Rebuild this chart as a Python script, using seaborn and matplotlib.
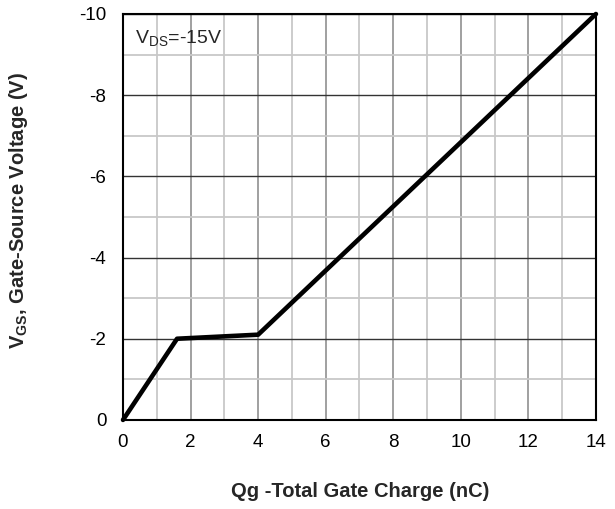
import matplotlib
matplotlib.use("Agg")
import matplotlib.pyplot as plt
import seaborn as sns
import pandas as pd
import numpy as np
from matplotlib.ticker import MultipleLocator

qg = [0, 1.6, 4.0, 14.0]
vgs = [0, -2.0, -2.1, -10.0]
x_ticks = [0, 2, 4, 6, 8, 10, 12, 14]
y_ticks = [0, -2, -4, -6, -8, -10]

sns.set_style("white")
plt.rcParams['font.family'] = ['Liberation Sans', 'DejaVu Sans']

df = pd.DataFrame({"Qg": qg, "Vgs": vgs})

fig = plt.figure(figsize=(6.15, 5.09), dpi=100)
ax = fig.add_axes([0.2, 0.175, 0.769, 0.7975])

ax.set_xlim(0, 14)
ax.set_ylim(0, -10)
ax.set_xticks(x_ticks)
ax.set_yticks(y_ticks)
ax.xaxis.set_minor_locator(MultipleLocator(1))
ax.yaxis.set_minor_locator(MultipleLocator(1))
ax.grid(which='minor', color='#c8c8c8', linewidth=1.3)
ax.xaxis.grid(which='major', color='#999999', linewidth=1.3)
ax.yaxis.grid(which='major', color='#333333', linewidth=1.0)
ax.set_axisbelow(True)

sns.lineplot(data=df, x="Qg", y="Vgs", ax=ax, color='black', linewidth=3.3, clip_on=False, zorder=5)

for s in ax.spines.values():
    s.set_color('black')
    s.set_linewidth(1.5)

ax.tick_params(axis='both', which='both', length=0, labelsize=13.5, colors='black')
ax.tick_params(axis='y', pad=12)
ax.tick_params(axis='x', pad=10)
ax.set_yticklabels([str(v) for v in y_ticks])

ax.set_xlabel("Qg -Total Gate Charge (nC)", fontsize=14.5, fontweight='bold', va='top')
ax.xaxis.set_label_coords(0.501, -0.152)
ax.set_ylabel(r"V$_{\mathregular{GS}}$, Gate-Source Voltage (V)", fontsize=14.5, fontweight='bold')
ax.yaxis.set_label_coords(-0.197, 0.517)

ax.text(0.36, -9.63, r"V$_{\mathregular{DS}}$=-15V", fontsize=14, va='top', ha='left')

fig.savefig("out.png", dpi=100)
